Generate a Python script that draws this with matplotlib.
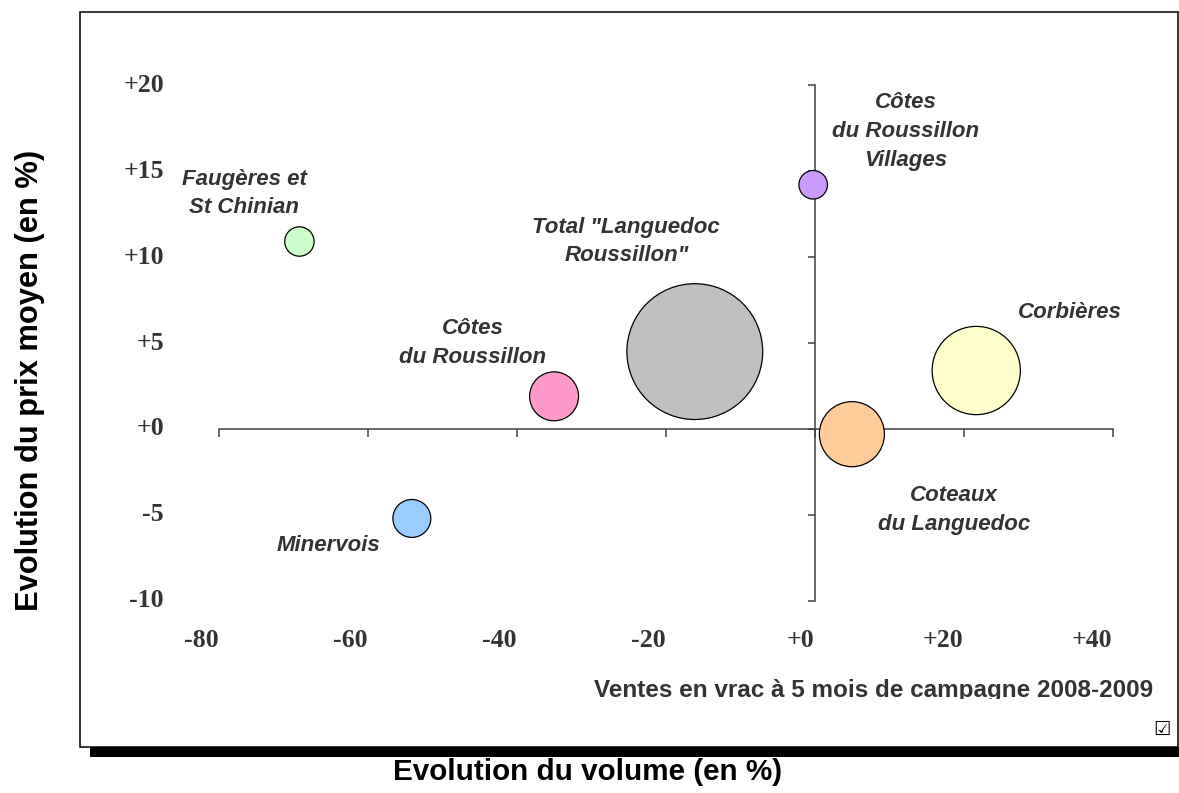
import matplotlib
matplotlib.use('Agg')
import matplotlib.pyplot as plt
import matplotlib.patches as patches
from matplotlib.transforms import Bbox, TransformedBbox, blended_transform_factory

# bubble data: appellation, evolution du volume (%), evolution du prix moyen (%), volume vendu (bubble area)
appellations = ['Faugères et\nSt Chinian', 'Côtes\ndu Roussillon\nVillages', 'Total "Languedoc\nRoussillon"',
                'Côtes\ndu Roussillon', 'Corbières', 'Coteaux\ndu Languedoc', 'Minervois']
evol_volume = [-69.2, -0.2, -16.1, -35.0, 21.7, 5.0, -54.1]
evol_prix = [10.9, 14.2, 4.5, 1.9, 3.4, -0.3, -5.2]
volumes = [21.6, 20.4, 462, 60, 195, 106, 36]
colors = ['#CCFFCC', '#CC99FF', '#C0C0C0', '#FF99CC', '#FFFFCC', '#FFCC99', '#99CCFF']

# where each name sits (data units)
label_x = [-76.6, 12.2, -25.3, -45.9, 34.3, 18.7, -65.3]
label_y = [13.7, 17.3, 10.9, 5.0, 6.8, -4.7, -6.8]

xticks = [-80, -60, -40, -20, 0, 20, 40]
yticks = [-10, -5, 0, 5, 10, 15, 20]

fig = plt.figure(figsize=(11.79, 7.93), dpi=100)

# outer frame with the black shadow underneath (kept behind the axes)
fig.patches.append(patches.Rectangle((0.0763, 0.0454), 0.93, 0.0128, transform=fig.transFigure,
                                     facecolor='black', edgecolor='none', zorder=-2))
fig.patches.append(patches.Rectangle((0.0679, 0.058), 0.9312, 0.9269, transform=fig.transFigure,
                                     facecolor='white', edgecolor='black', linewidth=1.1, zorder=-1))

ax = fig.add_axes([0.18575, 0.24212, 0.75785, 0.65069])
ax.set_facecolor('none')
ax.set_xlim(-80, 40)
ax.set_ylim(-10, 20)

# axes crossing at zero
ax.spines['left'].set_position(('data', 0))
ax.spines['bottom'].set_position(('data', 0))
ax.spines['top'].set_visible(False)
ax.spines['right'].set_visible(False)
for s in ['left', 'bottom']:
    ax.spines[s].set_color('#404040')
    ax.spines[s].set_linewidth(1.1)
ax.set_xticks(xticks)
ax.set_yticks(yticks)
ax.tick_params(axis='x', direction='out', length=6, width=1.1, color='#404040', labelbottom=False)
ax.tick_params(axis='y', direction='out', length=5, width=1.1, color='#404040', labelleft=False)

ax.scatter(evol_volume, evol_prix, s=[v * 20.7 for v in volumes], c=colors,
           edgecolors='black', linewidths=0.9, zorder=3, clip_on=False)

for name, lx, ly in zip(appellations, label_x, label_y):
    ax.text(lx, ly, name, ha='center', va='center', multialignment='center', family='Liberation Sans',
            fontsize=16, fontweight='bold', style='italic', color='#333333', linespacing=1.48)

# tick labels sit at the left / bottom of the plot, not on the axes
tick_font = dict(family='Liberation Serif', fontsize=18.5, fontweight='bold', color='#333333')
ty = blended_transform_factory(fig.transFigure, ax.transData)
for v in yticks:
    ax.text(0.1391, v, f'{v:+d}' if v >= 0 else str(v), transform=ty, ha='right', va='center', **tick_font)
tx = blended_transform_factory(ax.transData, fig.transFigure)
for v in xticks:
    ax.text(v, 0.1929, f'{v:+d}', transform=tx, ha='right', va='center', **tick_font)

# source line, cut at the baseline like the original
src = fig.text(0.7413, 0.1211, 'Ventes en vrac à 5 mois de campagne 2008-2009', ha='center', va='baseline',
               family='Liberation Sans', fontsize=17.5, fontweight='bold', color='#333333')
src.set_clip_box(TransformedBbox(Bbox([[0, 0.118], [1, 1]]), fig.transFigure))
src.set_clip_on(True)

fig.text(0.9856, 0.0795, '☑', ha='center', va='center', family='DejaVu Sans', fontsize=14, color='black')

fig.text(0.4983, 0.0265, 'Evolution du volume (en %)', ha='center', va='center',
         family='Liberation Sans', fontsize=21.3, fontweight='bold', color='black')
fig.text(0.0254, 0.5202, 'Evolution du prix moyen (en %)', ha='center', va='center', rotation=90,
         family='Liberation Sans', fontsize=22.2, fontweight='bold', color='black')

fig.savefig('out.png', dpi=100)
